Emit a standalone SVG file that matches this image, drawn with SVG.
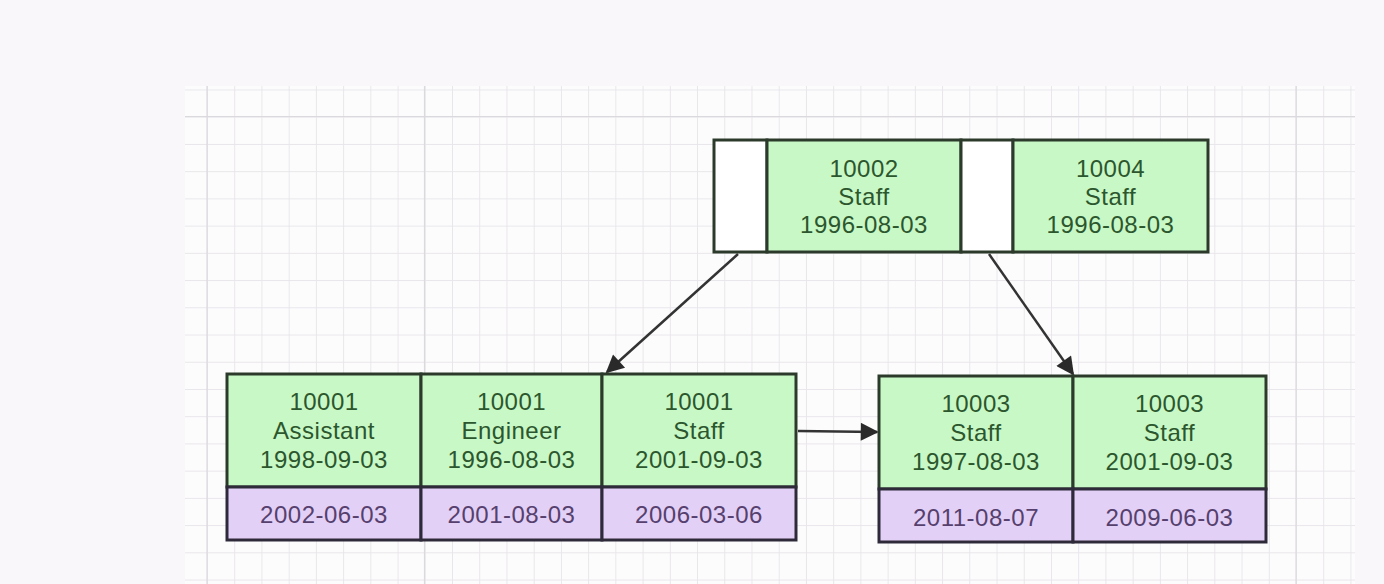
<svg xmlns="http://www.w3.org/2000/svg" width="1384" height="584" viewBox="0 0 1384 584">
  <style>
    .cellG { fill: #c8f8c6; stroke: #2b3a2b; stroke-width: 3; }
    .cellP { fill: #e3d0f6; stroke: #2e2a3a; stroke-width: 3; }
    .cellW { fill: #ffffff; stroke: #2b3a2b; stroke-width: 3; }
    .tG { font-family: "Liberation Sans", Arial, sans-serif; font-size: 24px; letter-spacing: 0.5px; fill: #2c562d; text-anchor: middle; }
    .tP { font-family: "Liberation Sans", Arial, sans-serif; font-size: 24px; letter-spacing: 0.5px; fill: #56406e; text-anchor: middle; }
    .edge { stroke: #333333; stroke-width: 2.5; fill: none; }
  </style>
  <defs>
    <pattern id="grid" patternUnits="userSpaceOnUse" x="207" y="89.5" width="27.225" height="27.225">
      <path d="M0.5,0 V27.225 M0,0.5 H27.225" stroke="#e8e6ea" stroke-width="1" fill="none"/>
    </pattern>
    <marker id="arrow" viewBox="0 0 10 10" refX="9" refY="5" markerUnits="userSpaceOnUse" markerWidth="26" markerHeight="18" orient="auto">
      <path d="M0,0 L10,5 L0,10 z" fill="#2a2a2a"/>
    </marker>
  </defs>

  <rect x="0" y="0" width="1384" height="584" fill="#f9f7f9"/>
  <rect x="185" y="86" width="1170" height="498" fill="#fdfcfd"/>
  <rect x="185" y="86" width="1170" height="498" fill="url(#grid)"/>
  <g stroke="#dcd9de" stroke-width="1.2">
    <line x1="207" y1="86" x2="207" y2="584"/>
    <line x1="424.5" y1="86" x2="424.5" y2="584"/>
    <line x1="1296" y1="86" x2="1296" y2="584"/>
    <line x1="185" y1="116.5" x2="1355" y2="116.5"/>
  </g>

  <g id="connectors">
    <line class="edge" x1="738" y1="254" x2="607" y2="372" marker-end="url(#arrow)"/>
    <line class="edge" x1="989" y1="254" x2="1073" y2="374" marker-end="url(#arrow)"/>
    <line class="edge" x1="798" y1="431" x2="877" y2="432" marker-end="url(#arrow)"/>
  </g>

  <g id="root-node">
    <rect class="cellW" x="714" y="140" width="53" height="112"/>
    <rect class="cellG" x="767" y="140" width="194" height="112"/>
    <rect class="cellW" x="961" y="140" width="52" height="112"/>
    <rect class="cellG" x="1013" y="140" width="195" height="112"/>
    <text class="tG" x="864" y="177">10002</text>
    <text class="tG" x="864" y="205">Staff</text>
    <text class="tG" x="864" y="233">1996-08-03</text>
    <text class="tG" x="1110.5" y="177">10004</text>
    <text class="tG" x="1110.5" y="205">Staff</text>
    <text class="tG" x="1110.5" y="233">1996-08-03</text>
  </g>

  <g id="left-leaf">
    <rect class="cellG" x="227" y="374" width="194" height="113"/>
    <rect class="cellG" x="421" y="374" width="181" height="113"/>
    <rect class="cellG" x="602" y="374" width="194" height="113"/>
    <rect class="cellP" x="227" y="487" width="194" height="53"/>
    <rect class="cellP" x="421" y="487" width="181" height="53"/>
    <rect class="cellP" x="602" y="487" width="194" height="53"/>
    <text class="tG" x="324" y="410">10001</text>
    <text class="tG" x="324" y="439">Assistant</text>
    <text class="tG" x="324" y="468">1998-09-03</text>
    <text class="tG" x="511.5" y="410">10001</text>
    <text class="tG" x="511.5" y="439">Engineer</text>
    <text class="tG" x="511.5" y="468">1996-08-03</text>
    <text class="tG" x="699" y="410">10001</text>
    <text class="tG" x="699" y="439">Staff</text>
    <text class="tG" x="699" y="468">2001-09-03</text>
    <text class="tP" x="324" y="523">2002-06-03</text>
    <text class="tP" x="511.5" y="523">2001-08-03</text>
    <text class="tP" x="699" y="523">2006-03-06</text>
  </g>

  <g id="right-leaf">
    <rect class="cellG" x="879" y="376" width="194" height="113"/>
    <rect class="cellG" x="1073" y="376" width="193" height="113"/>
    <rect class="cellP" x="879" y="489" width="194" height="53"/>
    <rect class="cellP" x="1073" y="489" width="193" height="53"/>
    <text class="tG" x="976" y="412">10003</text>
    <text class="tG" x="976" y="441">Staff</text>
    <text class="tG" x="976" y="470">1997-08-03</text>
    <text class="tG" x="1169.5" y="412">10003</text>
    <text class="tG" x="1169.5" y="441">Staff</text>
    <text class="tG" x="1169.5" y="470">2001-09-03</text>
    <text class="tP" x="976" y="526">2011-08-07</text>
    <text class="tP" x="1169.5" y="526">2009-06-03</text>
  </g>
</svg>
